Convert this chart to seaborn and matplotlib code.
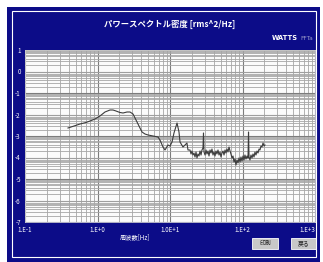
import numpy as np
import pandas as pd
import seaborn as sns
import matplotlib.pyplot as plt
from matplotlib.patches import Rectangle
from matplotlib.ticker import LogLocator, FixedLocator, FixedFormatter, NullFormatter

# log10 of frequency [Hz] and log10 of PSD
freq_exp = [-0.407, -0.324, -0.241, -0.159, -0.103, -0.034, 0.034, 0.103, 0.172, 0.214,
            0.255, 0.310, 0.352, 0.407, 0.448, 0.490, 0.545, 0.586, 0.614, 0.655,
            0.697, 0.766, 0.834, 0.862, 0.903, 0.931, 0.972, 1.000, 1.028, 1.055,
            1.097, 1.124, 1.138, 1.179, 1.207, 1.234, 1.248,
            1.276, 1.290, 1.303, 1.317, 1.331, 1.345, 1.359, 1.372, 1.386, 1.400,
            1.414, 1.428, 1.441, 1.455, 1.462, 1.469, 1.483, 1.497, 1.510, 1.524,
            1.538, 1.552, 1.566, 1.579, 1.593, 1.607, 1.621, 1.634, 1.648, 1.662,
            1.676, 1.690, 1.703, 1.717, 1.731, 1.745, 1.759, 1.772, 1.786, 1.800,
            1.814, 1.828, 1.841, 1.855, 1.869, 1.883, 1.897, 1.910, 1.924, 1.938,
            1.952, 1.966, 1.979, 1.993, 2.007, 2.021, 2.034, 2.048, 2.062, 2.076,
            2.083, 2.090, 2.103, 2.117, 2.131, 2.145, 2.159, 2.172, 2.186, 2.200,
            2.214, 2.228, 2.241, 2.255, 2.269, 2.283, 2.297, 2.310]
psd_exp = [-2.628, -2.535, -2.442, -2.372, -2.302, -2.209, -2.070, -1.884, -1.791, -1.791,
           -1.837, -1.907, -1.930, -1.884, -1.884, -1.977, -2.349, -2.628, -2.814, -2.907,
           -2.953, -3.000, -3.047, -3.186, -3.512, -3.651, -3.419, -3.465, -3.279, -2.860,
           -2.395, -2.814, -3.279, -3.512, -3.419, -3.326, -3.651,
           -3.651, -3.837, -3.698, -3.884, -3.791, -3.977, -3.744, -4.023, -3.837, -3.930,
           -3.698, -3.884, -3.651, -3.558, -2.860, -3.744, -3.884, -3.651, -3.837, -3.698,
           -3.930, -3.651, -3.791, -3.605, -3.884, -3.744, -3.930, -3.698, -3.837, -3.651,
           -3.884, -3.744, -3.977, -3.791, -3.698, -3.884, -3.651, -3.791, -3.605, -3.744,
           -3.512, -3.698, -3.837, -4.023, -3.930, -4.209, -4.070, -4.349, -4.116, -4.256,
           -4.023, -4.209, -3.977, -4.163, -3.930, -4.116, -3.884, -4.070, -3.930, -4.023,
           -2.814, -3.977, -4.116, -3.884, -4.023, -3.837, -3.977, -3.744, -3.884, -3.698,
           -3.791, -3.605, -3.651, -3.465, -3.512, -3.326, -3.465, -3.419]

x_ticks = [0.1, 1, 10, 100, 1000]
x_labels = ['1.E-1', '1.E+0', '1.0E+1', '1.E+2', '1.E+3']
y_exps = [1, 0, -1, -2, -3, -4, -5, -6, -7]

W, H = 323, 262
navy = '#0c0c88'

df = pd.DataFrame({'freq': 10.0 ** np.array(freq_exp), 'psd': 10.0 ** np.array(psd_exp)})

plt.rcParams['font.family'] = ['Noto Sans CJK JP', 'DejaVu Sans']
fig = plt.figure(figsize=(W / 100, H / 100), dpi=100, facecolor='white')


def fx(x):
    return x / W


def fy(y):
    return 1 - y / H


# fondo azul y marco blanco
fig.patches.append(Rectangle((fx(7), fy(262)), fx(320) - fx(7), fy(7) - fy(262),
                             transform=fig.transFigure, facecolor=navy, edgecolor='none', zorder=-2))
fig.patches.append(Rectangle((fx(12), fy(257)), fx(316) - fx(12), fy(11) - fy(257),
                             transform=fig.transFigure, facecolor='none', edgecolor='white',
                             linewidth=0.8, zorder=-1))

ax = fig.add_axes([fx(25), fy(222), fx(315) - fx(25), fy(50) - fy(222)])
ax.set_zorder(1)
ax.set_facecolor('#fbfbfb')
sns.lineplot(data=df, x='freq', y='psd', ax=ax, sort=False, estimator=None,
             color='#3c3c3c', linewidth=0.8)

ax.set_xscale('log')
ax.set_yscale('log')
ax.set_xlim(0.1, 1000)
ax.set_ylim(1e-7, 1e1)

ax.xaxis.set_major_locator(FixedLocator(x_ticks))
ax.xaxis.set_major_formatter(FixedFormatter(x_labels))
ax.yaxis.set_major_locator(FixedLocator([10.0 ** e for e in y_exps]))
ax.yaxis.set_major_formatter(FixedFormatter([str(e) for e in y_exps]))
ax.xaxis.set_minor_locator(LogLocator(base=10, subs=np.arange(2, 10), numticks=100))
ax.yaxis.set_minor_locator(LogLocator(base=10, subs=np.arange(2, 10), numticks=100))
ax.xaxis.set_minor_formatter(NullFormatter())
ax.yaxis.set_minor_formatter(NullFormatter())

ax.grid(which='major', color='#7c7c7c', linewidth=0.8)
ax.grid(which='minor', color='#a6a6a6', linewidth=0.6)
ax.set_axisbelow(True)
ax.tick_params(which='both', length=0, colors='white', labelsize=4.5, pad=3)
ax.get_xticklabels()[-1].set_ha('right')
for s in ax.spines.values():
    s.set_color('#d0d0d0')
    s.set_linewidth(0.6)
ax.set_xlabel('')
ax.set_ylabel('')

fig.text(fx(170), fy(24), 'パワースペクトル密度 [rms^2/Hz]', color='white',
         fontsize=6, fontweight='bold', ha='center', va='center')
fig.text(fx(298), fy(38), 'WATTS', color='white', fontsize=4.8, fontweight='bold',
         ha='right', va='center', family=['DejaVu Sans'])
fig.text(fx(300), fy(38), 'FFTa', color='#9a9ac8', fontsize=4.2, ha='left', va='center',
         family=['DejaVu Sans'])
fig.text(fx(135), fy(237), '周波数[Hz]', color='white', fontsize=4.5, ha='center', va='center')

# botones
for x0, x1, txt in [(252, 278, '印刷'), (291, 316, '戻る')]:
    fig.patches.append(Rectangle((fx(x0), fy(249)), fx(x1) - fx(x0), fy(238) - fy(249),
                                 transform=fig.transFigure, facecolor='#c8c8c8',
                                 edgecolor='white', linewidth=0.6, zorder=2))
    fig.text(fx((x0 + x1) / 2), fy(243.5), txt, color='#202020', fontsize=4.2,
             ha='center', va='center', zorder=3)

fig.savefig('out.png', dpi=100, facecolor='white')
